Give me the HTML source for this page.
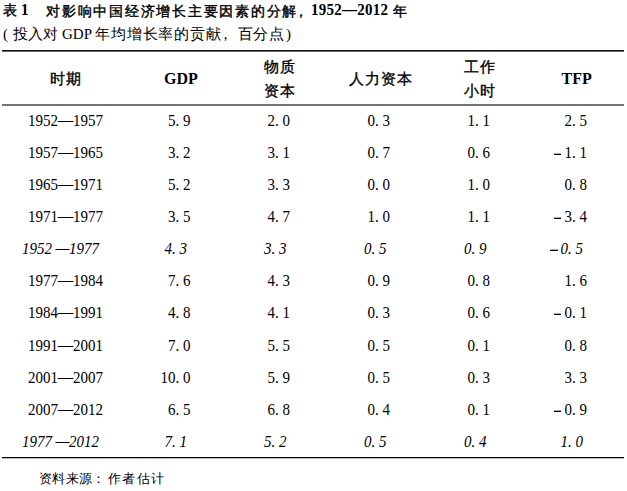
<!DOCTYPE html>
<html><head><meta charset="utf-8">
<style>
html,body{margin:0;padding:0;background:#fff;}
body{width:627px;height:491px;position:relative;overflow:hidden;font-family:"Liberation Serif",serif;color:#000;}
.a{position:absolute;white-space:nowrap;line-height:1;}
.t{font-size:15px;font-weight:bold;}
.s{font-size:15px;}
.hc{font-size:15px;font-weight:normal;letter-spacing:1px;-webkit-text-stroke:0.35px #000;}
.hl{font-size:15px;font-weight:bold;}
.c{font-size:15px;transform:translateX(-50%);}
.i{font-style:italic;}
.d{position:relative;top:-1px;-webkit-text-stroke:0.3px #000;}
.r{font-size:15px;transform:scaleY(1.05);transform-origin:0 12.5px;}
.mn{position:absolute;width:7.5px;height:1px;background:#000;border-top:1px solid #aaa;}
.line{position:absolute;left:2px;width:622px;background:#111;}
</style></head><body>
<div class="a t" style="left:2.5px;top:4px;font-size:14px;font-weight:normal;-webkit-text-stroke:0.4px #000;">表</div>
<div class="a t" style="left:21px;top:3px;transform:scaleY(1.09);transform-origin:0 12.5px;">1</div>
<div class="a t" style="left:46px;top:4.5px;font-size:14px;font-weight:normal;-webkit-text-stroke:0.4px #000;letter-spacing:1.75px;">对影响中国经济增长主要因素的分解</div>
<div class="a t" style="left:294px;top:4.5px;font-size:14px;font-weight:normal;-webkit-text-stroke:0.4px #000;">，</div>
<div class="a t" style="left:311px;top:3px;letter-spacing:0.25px;transform:scaleY(1.09);transform-origin:0 12.5px;">1952—2012</div>
<div class="a t" style="left:392.5px;top:4.5px;font-size:14px;font-weight:normal;-webkit-text-stroke:0.4px #000;">年</div>
<div class="a s" style="left:3px;top:27px;">(</div>
<div class="a s" style="left:12.5px;top:27px;letter-spacing:0.2px;">投入对</div>
<div class="a s" style="left:62px;top:27px;">GDP</div>
<div class="a s" style="left:95.3px;top:27px;letter-spacing:0.75px;">年均增长率的贡献</div>
<div class="a s" style="left:217.5px;top:27px;">，</div>
<div class="a s" style="left:237.5px;top:27px;letter-spacing:0.6px;">百分点</div>
<div class="a s" style="left:286px;top:27px;">)</div>
<div class="line" style="top:50px;height:1px;background:#111;"></div><div class="line" style="top:51px;height:1px;background:#666;"></div>

<div class="a hc" style="left:50px;top:72px;">时期</div>
<div class="a hl" style="left:164px;top:71px;font-size:16px;">GDP</div>
<div class="a hc" style="left:264px;top:60px;">物质</div>
<div class="a hc" style="left:264px;top:84px;">资本</div>
<div class="a hc" style="left:349px;top:72px;">人力资本</div>
<div class="a hc" style="left:464px;top:60px;">工作</div>
<div class="a hc" style="left:464px;top:84px;">小时</div>
<div class="a hl" style="left:561.5px;top:71px;font-size:16px;">TFP</div>
<div class="line" style="top:104px;height:2px;background:#747474;"></div>

<!--ROWS-->
<div class="a r" style="left:28px;top:113.55px;">1952<span class="d">—</span>1957</div>
<div class="a r" style="right:436.5px;top:113.55px;">5. 9</div>
<div class="a r" style="right:337px;top:113.55px;">2. 0</div>
<div class="a r" style="right:237px;top:113.55px;">0. 3</div>
<div class="a r" style="right:137px;top:113.55px;">1. 1</div>
<div class="a r" style="right:40px;top:113.55px;">2. 5</div>
<div class="a r" style="left:28px;top:145.72px;">1957<span class="d">—</span>1965</div>
<div class="a r" style="right:436.5px;top:145.72px;">3. 2</div>
<div class="a r" style="right:337px;top:145.72px;">3. 1</div>
<div class="a r" style="right:237px;top:145.72px;">0. 7</div>
<div class="a r" style="right:137px;top:145.72px;">0. 6</div>
<div class="mn" style="left:553.5px;top:153px;"></div>
<div class="a r" style="right:40px;top:145.72px;">1. 1</div>
<div class="a r" style="left:28px;top:177.89px;">1965<span class="d">—</span>1971</div>
<div class="a r" style="right:436.5px;top:177.89px;">5. 2</div>
<div class="a r" style="right:337px;top:177.89px;">3. 3</div>
<div class="a r" style="right:237px;top:177.89px;">0. 0</div>
<div class="a r" style="right:137px;top:177.89px;">1. 0</div>
<div class="a r" style="right:40px;top:177.89px;">0. 8</div>
<div class="a r" style="left:28px;top:210.06px;">1971<span class="d">—</span>1977</div>
<div class="a r" style="right:436.5px;top:210.06px;">3. 5</div>
<div class="a r" style="right:337px;top:210.06px;">4. 7</div>
<div class="a r" style="right:237px;top:210.06px;">1. 0</div>
<div class="a r" style="right:137px;top:210.06px;">1. 1</div>
<div class="mn" style="left:553.5px;top:217px;"></div>
<div class="a r" style="right:40px;top:210.06px;">3. 4</div>
<div class="a r i" style="left:22px;top:242.23px;">1952 <span class="d">—</span>1977</div>
<div class="a r i" style="right:440.0px;top:242.23px;">4. 3</div>
<div class="a r i" style="right:340.5px;top:242.23px;">3. 3</div>
<div class="a r i" style="right:240.5px;top:242.23px;">0. 5</div>
<div class="a r i" style="right:140.5px;top:242.23px;">0. 9</div>
<div class="mn" style="left:550px;top:249px;"></div>
<div class="a r i" style="right:44px;top:242.23px;">0. 5</div>
<div class="a r" style="left:28px;top:274.4px;">1977<span class="d">—</span>1984</div>
<div class="a r" style="right:436.5px;top:274.4px;">7. 6</div>
<div class="a r" style="right:337px;top:274.4px;">4. 3</div>
<div class="a r" style="right:237px;top:274.4px;">0. 9</div>
<div class="a r" style="right:137px;top:274.4px;">0. 8</div>
<div class="a r" style="right:40px;top:274.4px;">1. 6</div>
<div class="a r" style="left:28px;top:306.2px;">1984<span class="d">—</span>1991</div>
<div class="a r" style="right:436.5px;top:306.2px;">4. 8</div>
<div class="a r" style="right:337px;top:306.2px;">4. 1</div>
<div class="a r" style="right:237px;top:306.2px;">0. 3</div>
<div class="a r" style="right:137px;top:306.2px;">0. 6</div>
<div class="mn" style="left:553.5px;top:313px;"></div>
<div class="a r" style="right:40px;top:306.2px;">0. 1</div>
<div class="a r" style="left:28px;top:338.74px;">1991<span class="d">—</span>2001</div>
<div class="a r" style="right:436.5px;top:338.74px;">7. 0</div>
<div class="a r" style="right:337px;top:338.74px;">5. 5</div>
<div class="a r" style="right:237px;top:338.74px;">0. 5</div>
<div class="a r" style="right:137px;top:338.74px;">0. 1</div>
<div class="a r" style="right:40px;top:338.74px;">0. 8</div>
<div class="a r" style="left:28px;top:370.91px;">2001<span class="d">—</span>2007</div>
<div class="a r" style="right:436.5px;top:370.91px;">10. 0</div>
<div class="a r" style="right:337px;top:370.91px;">5. 9</div>
<div class="a r" style="right:237px;top:370.91px;">0. 5</div>
<div class="a r" style="right:137px;top:370.91px;">0. 3</div>
<div class="a r" style="right:40px;top:370.91px;">3. 3</div>
<div class="a r" style="left:28px;top:403.08px;">2007<span class="d">—</span>2012</div>
<div class="a r" style="right:436.5px;top:403.08px;">6. 5</div>
<div class="a r" style="right:337px;top:403.08px;">6. 8</div>
<div class="a r" style="right:237px;top:403.08px;">0. 4</div>
<div class="a r" style="right:137px;top:403.08px;">0. 1</div>
<div class="mn" style="left:553.5px;top:410px;"></div>
<div class="a r" style="right:40px;top:403.08px;">0. 9</div>
<div class="a r i" style="left:22px;top:435.25px;">1977 <span class="d">—</span>2012</div>
<div class="a r i" style="right:440.0px;top:435.25px;">7. 1</div>
<div class="a r i" style="right:340.5px;top:435.25px;">5. 2</div>
<div class="a r i" style="right:240.5px;top:435.25px;">0. 5</div>
<div class="a r i" style="right:140.5px;top:435.25px;">0. 4</div>
<div class="a r i" style="right:44px;top:435.25px;">1. 0</div>
<!--/ROWS-->

<div class="line" style="top:457px;height:1px;background:#000;"></div><div class="line" style="top:458px;height:1px;background:#bbb;"></div>
<div class="a s" style="left:38.5px;top:472px;font-size:13px;letter-spacing:0.5px;">资料来源</div>
<div class="a s" style="left:92px;top:472px;font-size:13px;">：</div>
<div class="a s" style="left:108px;top:472px;font-size:13px;letter-spacing:1.3px;">作者估计</div>
</body></html>
